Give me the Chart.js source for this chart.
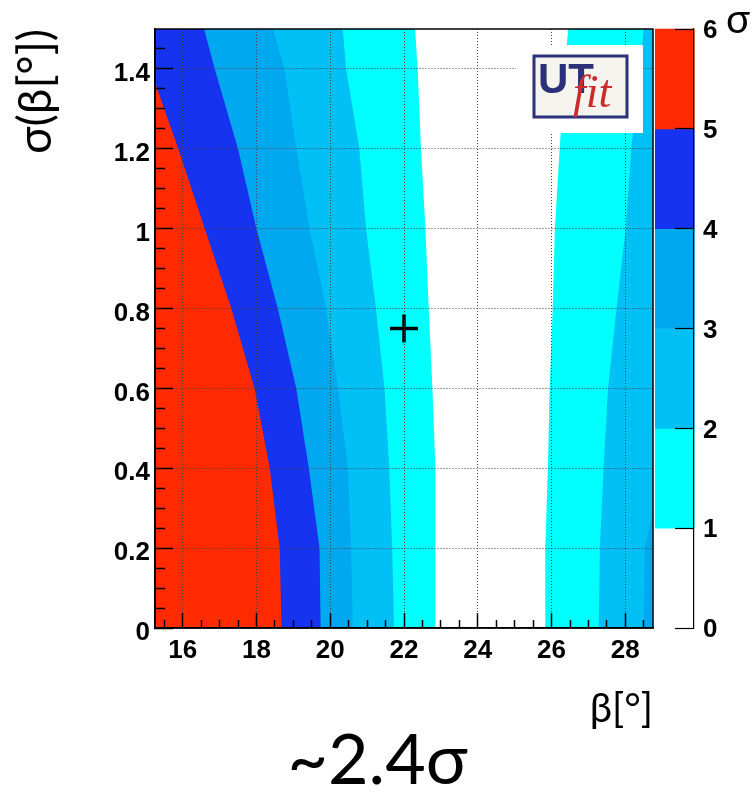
<!DOCTYPE html>
<html>
<head>
<meta charset="utf-8">
<script src="https://cdn.jsdelivr.net/npm/chart.js@4.4.1/dist/chart.umd.min.js"></script>
<style>
  html, body { margin: 0; padding: 0; background: #fff; }
  canvas { display: block; }
</style>
</head>
<body>
<canvas id="betaChart" width="755" height="797"></canvas>
<script>
// compatibility of beta with sigma(beta), in units of sigma
const sigmaLevels = [0, 1, 2, 3, 4, 5, 6];
const levelColors = ['#ffffff', '#00ffff', '#00c0f6', '#00a9ef', '#1633ef', '#ff2a00'];

const yLevels = [0, 0.2, 0.4, 0.6, 0.8, 1.0, 1.2, 1.4, 1.5];
// left side: x of the 5,4,3,2,1 sigma edges at each height
const edge5 = [18.68, 18.63, 18.36, 17.95, 17.32, 16.60, 15.88, 15.12, 14.74];
const edge4 = [19.74, 19.71, 19.42, 19.08, 18.58, 18.00, 17.50, 16.87, 16.58];
const edge3 = [20.61, 20.57, 20.48, 20.21, 19.89, 19.44, 19.08, 18.76, 18.45];
const edge2 = [21.73, 21.68, 21.60, 21.47, 21.24, 20.97, 20.79, 20.43, 20.34];
const edge1 = [22.85, 22.85, 22.85, 22.77, 22.67, 22.58, 22.46, 22.37, 22.30];
// right side: x of the 1,2,3 sigma edges
const edge1R = [25.84, 25.83, 25.90, 25.95, 26.03, 26.09, 26.22, 26.36, 26.45];
const edge2R = [27.28, 27.31, 27.41, 27.53, 27.76, 28.01, 28.16, 28.40, 28.50];
const edge3R = [28.50, 28.53, 29.00, 29.50, 29.50, 29.50, 29.50, 29.50, 29.50];

const bestFit = [{ x: 22, y: 0.75 }];

const xTicks = [16, 18, 20, 22, 24, 26, 28];
const xMinorTicks = [15.5, 16.5, 17, 17.5, 18.5, 19, 19.5, 20.5, 21, 21.5, 22.5, 23, 23.5, 24.5, 25, 25.5, 26.5, 27, 27.5, 28.5];
const yTicks = [0, 0.2, 0.4, 0.6, 0.8, 1, 1.2, 1.4];
const yTickLabels = ['0', '0.2', '0.4', '0.6', '0.8', '1', '1.2', '1.4'];
const yMinorTicks = [0.05, 0.1, 0.15, 0.25, 0.3, 0.35, 0.45, 0.5, 0.55, 0.65, 0.7, 0.75, 0.85, 0.9, 0.95, 1.05, 1.1, 1.15, 1.25, 1.3, 1.35, 1.45];

const xMin = 15.25, xMax = 28.75;
const cbarX = 29.34;     // centre of the colour bar, in x units
const cbarEdge = 29.86;  // right edge of the colour bar

const tickFont = { family: '"Liberation Sans", Arial, sans-serif', weight: 'bold', size: 26 };
const textFamily = 'Lato, "Noto Sans", "DejaVu Sans", sans-serif';

// region from the left frame to an edge, or from an edge to the right frame
function leftRegion(edge) {
  return [{ x: 14, y: yLevels[0] }]
    .concat(yLevels.map((y, i) => ({ x: edge[i], y: y })))
    .concat([{ x: 14, y: yLevels[yLevels.length - 1] }]);
}
function rightRegion(edge) {
  return [{ x: 30.5, y: yLevels[0] }]
    .concat(yLevels.map((y, i) => ({ x: edge[i], y: y })))
    .concat([{ x: 30.5, y: yLevels[yLevels.length - 1] }]);
}
function region(points, level) {
  return {
    type: 'line',
    data: points,
    fill: 'shape',
    backgroundColor: levelColors[level],
    borderColor: 'transparent',
    borderWidth: 0,
    pointRadius: 0,
    xAxisID: 'x',
    yAxisID: 'y',
    order: 12 - level
  };
}

// tick labels should not push the plot frame around
function noPadding(s) {
  s.paddingTop = 0; s.paddingBottom = 0; s.paddingLeft = 0; s.paddingRight = 0;
}

const decor = {
  id: 'decor',
  afterDraw(chart) {
    const { ctx, chartArea: a } = chart;
    ctx.save();
    ctx.strokeStyle = '#000';
    ctx.lineWidth = 1.5;
    ctx.strokeRect(a.left, a.top, a.right - a.left, a.bottom - a.top);

    // UTfit logo
    ctx.fillStyle = '#fff';
    ctx.fillRect(a.right - 137, a.top + 16, 127, 88);
    ctx.fillStyle = '#f6f4ef';
    ctx.fillRect(a.right - 119, a.top + 27, 93, 61);
    ctx.strokeStyle = '#2b3079';
    ctx.lineWidth = 3;
    ctx.strokeRect(a.right - 119, a.top + 27, 93, 61);
    ctx.textAlign = 'left';
    ctx.textBaseline = 'alphabetic';
    ctx.fillStyle = '#2b3079';
    ctx.font = 'bold 42px "Liberation Sans", Arial, sans-serif';
    ctx.fillText('UT', a.right - 115, a.top + 64);
    ctx.fillStyle = '#cc2a2e';
    ctx.font = 'italic 46px "Liberation Serif", serif';
    ctx.fillText('fit', a.right - 80, a.top + 78);

    // colour bar title
    ctx.fillStyle = '#000';
    ctx.textAlign = 'center';
    ctx.textBaseline = 'middle';
    ctx.font = '40px ' + textFamily;
    ctx.fillText('σ', a.right + 85, a.top - 9);
    ctx.restore();
  }
};

const datasets = [
  {
    type: 'scatter',
    data: bestFit,
    pointStyle: 'cross',
    pointRadius: 14,
    borderWidth: 3.5,
    borderColor: '#000',
    backgroundColor: '#000',
    xAxisID: 'x',
    yAxisID: 'y',
    order: 0
  },
  {
    type: 'bar',
    data: sigmaLevels.slice(0, -1).map((s, i) => ({ x: cbarX, y: [s, sigmaLevels[i + 1]] })),
    backgroundColor: levelColors,
    borderWidth: 0,
    barThickness: 39,
    clip: false,
    xAxisID: 'x',
    yAxisID: 'yc',
    order: 1
  },
  region(leftRegion(edge5), 5),
  region(leftRegion(edge4), 4),
  region(leftRegion(edge3), 3),
  region(leftRegion(edge2), 2),
  region(leftRegion(edge1), 1),
  region(rightRegion(edge3R), 3),
  region(rightRegion(edge2R), 2),
  region(rightRegion(edge1R), 1)
];

const gridOpts = { z: 1, color: '#444', lineWidth: 1, tickColor: '#000', tickWidth: 1.5 };

new Chart(document.getElementById('betaChart'), {
  type: 'scatter',
  data: { datasets: datasets },
  plugins: [decor],
  options: {
    responsive: false,
    devicePixelRatio: 1,
    animation: false,
    events: [],
    layout: { padding: { top: 29, left: 0, right: 0, bottom: 0 } },
    plugins: {
      legend: { display: false },
      tooltip: { enabled: false },
      title: {
        display: true,
        position: 'bottom',
        text: '~2.4σ',
        color: '#000',
        font: { family: textFamily, size: 70, weight: 'normal', lineHeight: 1 },
        padding: { top: 0, bottom: 1 }
      }
    },
    scales: {
      x: {
        type: 'linear', min: xMin, max: xMax, position: 'bottom', offset: false,
        afterBuildTicks: s => { s.ticks = xTicks.map(v => ({ value: v })); },
        afterFit: s => { s.height = 98; noPadding(s); },
        ticks: { autoSkip: false, maxRotation: 0, padding: 22, font: tickFont, color: '#000', callback: v => String(v) },
        grid: Object.assign({ offset: false, tickLength: -15 }, gridOpts),
        border: { z: 1, display: true, color: '#000', width: 1.5, dash: [1, 2] },
        title: {
          display: true, text: 'β[°]', align: 'end', color: '#000',
          font: { family: textFamily, size: 40, lineHeight: 1 },
          padding: { top: 0, bottom: -3 }
        }
      },
      y: {
        type: 'linear', min: 0, max: 1.5, position: 'left',
        afterBuildTicks: s => { s.ticks = yTicks.map(v => ({ value: v })); },
        afterFit: s => { s.width = 155; noPadding(s); },
        ticks: { autoSkip: false, padding: 23, labelOffset: 5, font: tickFont, color: '#000', callback: (v, i) => yTickLabels[i] },
        grid: Object.assign({ tickLength: -18 }, gridOpts),
        border: { z: 1, display: true, color: '#000', width: 1.5, dash: [1, 2] },
        title: {
          display: true, text: 'σ(β[°])', align: 'end', color: '#000',
          font: { family: textFamily, size: 46, lineHeight: 1 },
          padding: { top: 13, bottom: 0 }
        }
      },
      xMinor: {
        type: 'linear', min: xMin, max: xMax, position: { y: 0 }, offset: false,
        afterBuildTicks: s => { s.ticks = xMinorTicks.map(v => ({ value: v })); },
        afterFit: noPadding,
        ticks: { display: false },
        grid: { z: 1, offset: false, drawOnChartArea: false, tickLength: -8, tickColor: '#000', tickWidth: 1.5 },
        border: { display: false }
      },
      yMinor: {
        type: 'linear', min: 0, max: 1.5, position: { x: xMin },
        afterBuildTicks: s => { s.ticks = yMinorTicks.map(v => ({ value: v })); },
        afterFit: noPadding,
        ticks: { display: false },
        grid: { z: 1, drawOnChartArea: false, tickLength: -10, tickColor: '#000', tickWidth: 1.5 },
        border: { display: false }
      },
      yc: {
        type: 'linear', min: 0, max: 6, position: 'right',
        afterBuildTicks: s => { s.ticks = sigmaLevels.map(v => ({ value: v })); },
        afterFit: s => { s.width = 102; noPadding(s); },
        ticks: { autoSkip: false, padding: 50, labelOffset: 2, font: tickFont, color: '#000' },
        grid: { display: false, drawTicks: false },
        border: { display: false }
      },
      ycTicks: {
        type: 'linear', min: 0, max: 6, position: { x: cbarEdge },
        afterBuildTicks: s => { s.ticks = sigmaLevels.map(v => ({ value: v })); },
        afterFit: noPadding,
        ticks: { display: false },
        grid: { z: 1, drawOnChartArea: false, tickLength: 18, tickColor: '#000', tickWidth: 1.2 },
        border: { z: 1, display: true, color: '#000', width: 1.2 }
      }
    }
  }
});
</script>
</body>
</html>
